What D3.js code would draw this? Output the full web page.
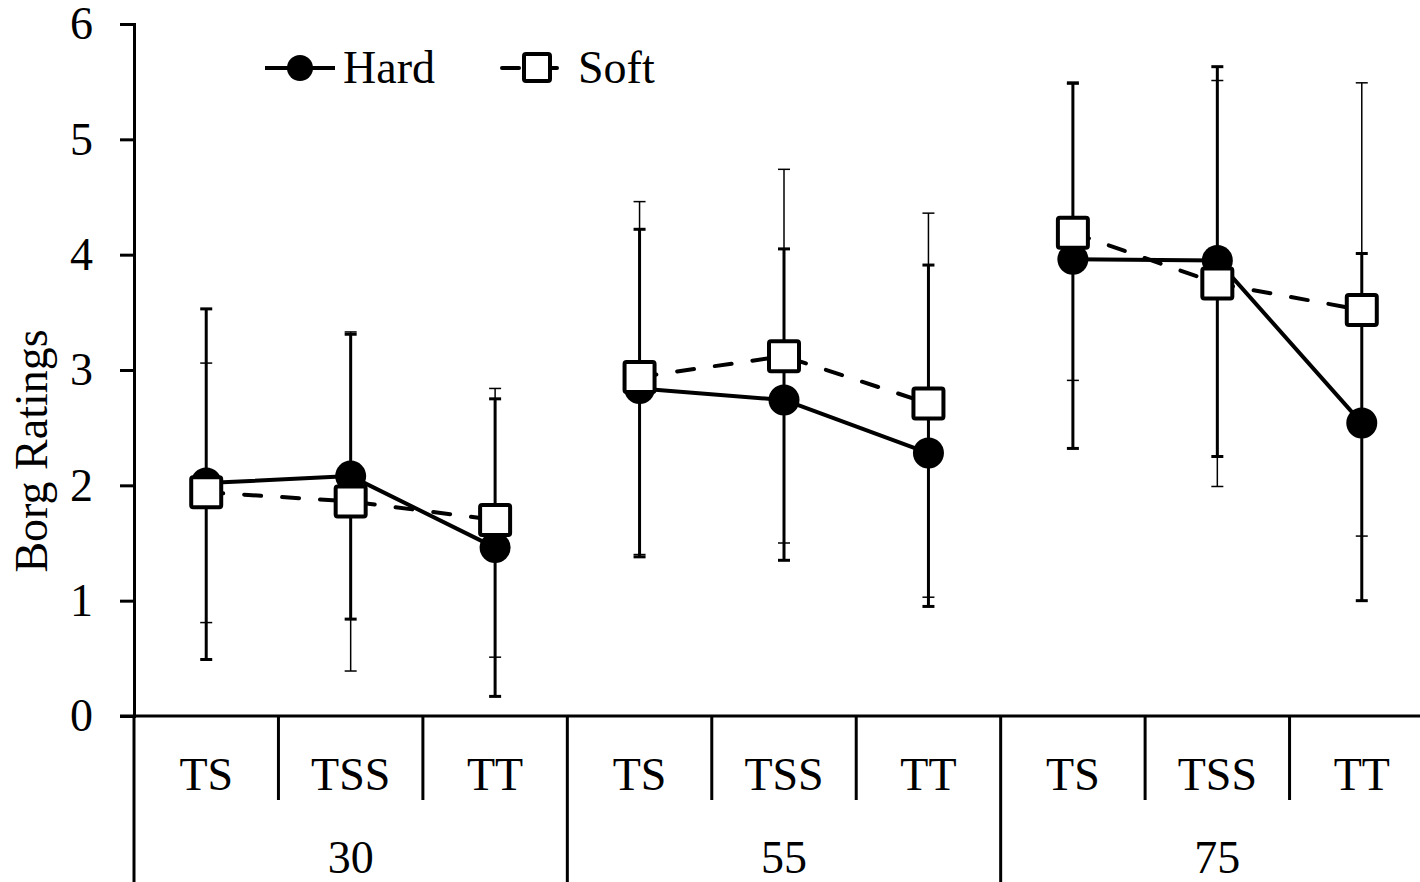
<!DOCTYPE html>
<html>
<head>
<meta charset="utf-8">
<script src="https://cdn.jsdelivr.net/npm/d3@7"></script>
<style>
  html, body { margin: 0; padding: 0; background: #fff; }
  svg { display: block; }
  text { font-family: "Liberation Serif", "Times New Roman", serif; fill: #000; }
</style>
</head>
<body>
<svg id="chart" width="1420" height="882"></svg>
<script>
// ---- data ----
const levels = ["30", "55", "75"];
const tasks = ["TS", "TSS", "TT"];
const yTicks = [0, 1, 2, 3, 4, 5, 6];
const seriesNames = ["Hard", "Soft"];

const hardMean = [2.02, 2.08, 1.46, 2.84, 2.74, 2.28, 3.96, 3.95, 2.54];
const hardLow  = [0.49, 0.84, 0.17, 1.38, 1.35, 0.95, 2.32, 2.25, 1.00];
const hardHigh = [3.53, 3.31, 2.75, 4.22, 4.05, 3.91, 5.49, 5.63, 4.01];

const softMean = [1.94, 1.86, 1.70, 2.94, 3.12, 2.71, 4.19, 3.75, 3.52];
const softLow  = [0.81, 0.39, 0.51, 1.40, 1.50, 1.03, 2.91, 1.99, 1.56];
const softHigh = [3.06, 3.33, 2.84, 4.46, 4.74, 4.36, 5.48, 5.51, 5.49];

// ---- build ----
const cats = [];
levels.forEach(l => tasks.forEach(t => cats.push({ level: l, task: t, key: l + "-" + t })));

const svg = d3.select("#chart");
const FONT = 46;

const x = d3.scaleBand().domain(cats.map(c => c.key)).range([134, 1434]).padding(0);
const y = d3.scaleLinear().domain([0, 6]).range([716, 24]);
const cx = i => x(cats[i].key) + x.bandwidth() / 2;

// y axis
const yAxis = d3.axisLeft(y).tickValues(yTicks).tickSize(14).tickSizeOuter(14).tickPadding(27).tickFormat(d3.format("d"));
const gy = svg.append("g").attr("transform", "translate(134,0)").call(yAxis);
gy.selectAll("path.domain").attr("stroke", "#000").attr("stroke-width", 3);
gy.selectAll(".tick line").attr("stroke", "#000").attr("stroke-width", 3);
gy.selectAll(".tick text").style("font-size", FONT + "px").style("font-family", "Liberation Serif");

// extension of y axis line downwards (category table)
svg.append("line").attr("x1", 134).attr("x2", 134).attr("y1", 716).attr("y2", 882)
  .attr("stroke", "#000").attr("stroke-width", 3);

// x axis line
svg.append("line").attr("x1", 120).attr("x2", 1434).attr("y1", y(0)).attr("y2", y(0))
  .attr("stroke", "#000").attr("stroke-width", 3);

// separators
cats.forEach((c, i) => {
  if (i === 0) return;
  const xs = x(c.key);
  const isGroup = tasks.indexOf(c.task) === 0;
  svg.append("line").attr("x1", xs).attr("x2", xs).attr("y1", y(0)).attr("y2", isGroup ? 882 : 800)
    .attr("stroke", "#000").attr("stroke-width", 3);
});

// task labels
const xAxis = d3.axisBottom(x).tickSize(0).tickPadding(0).tickFormat(k => k.split("-")[1]);
const gx = svg.append("g").attr("transform", "translate(0,716)").call(xAxis);
gx.select("path.domain").remove();
gx.selectAll(".tick text").attr("y", 74).attr("dy", 0)
  .style("font-size", FONT + "px").style("font-family", "Liberation Serif");

// level labels
levels.forEach((l, gi) => {
  const x0 = x(l + "-" + tasks[0]);
  const x1 = x(l + "-" + tasks[tasks.length - 1]) + x.bandwidth();
  svg.append("text").attr("x", (x0 + x1) / 2).attr("y", 873).attr("text-anchor", "middle")
    .style("font-size", FONT + "px").text(l);
});

// y axis title
svg.append("text").attr("transform", "translate(47,451) rotate(-90)").attr("text-anchor", "middle")
  .style("font-size", FONT + "px").text("Borg Ratings");

// error bars
function errBars(low, high, sw) {
  const g = svg.append("g").attr("stroke", "#000").attr("stroke-width", sw).attr("fill", "none");
  low.forEach((lo, i) => {
    const xc = cx(i);
    g.append("line").attr("x1", xc).attr("x2", xc).attr("y1", y(lo)).attr("y2", y(high[i]));
    g.append("line").attr("x1", xc - 6).attr("x2", xc + 6).attr("y1", y(lo)).attr("y2", y(lo));
    g.append("line").attr("x1", xc - 6).attr("x2", xc + 6).attr("y1", y(high[i])).attr("y2", y(high[i]));
  });
}
errBars(softLow, softHigh, 1.5);
errBars(hardLow, hardHigh, 3);

// lines (per level group)
const line = d3.line().x(d => cx(d.i)).y(d => y(d.v));
function drawLines(vals, dashed) {
  levels.forEach((l, gi) => {
    const pts = tasks.map((t, ti) => ({ i: gi * 3 + ti, v: vals[gi * 3 + ti] }));
    const p = svg.append("path").attr("d", line(pts)).attr("fill", "none")
      .attr("stroke", "#000").attr("stroke-width", 4).attr("stroke-linejoin", "round");
    if (dashed) p.attr("stroke-dasharray", "17,21").attr("stroke-linecap", "round");
  });
}
drawLines(softMean, true);
drawLines(hardMean, false);

// markers
svg.append("g").selectAll("circle").data(hardMean).join("circle")
  .attr("cx", (d, i) => cx(i)).attr("cy", d => y(d)).attr("r", 15.5).attr("fill", "#000");
svg.append("g").selectAll("rect").data(softMean).join("rect")
  .attr("x", (d, i) => cx(i) - 15).attr("y", d => y(d) - 15).attr("width", 30).attr("height", 30)
  .attr("rx", 2).attr("fill", "#fff").attr("stroke", "#000").attr("stroke-width", 4);

// legend
const lg = svg.append("g");
lg.append("line").attr("x1", 265).attr("x2", 335).attr("y1", 68).attr("y2", 68)
  .attr("stroke", "#000").attr("stroke-width", 4);
lg.append("circle").attr("cx", 300).attr("cy", 68).attr("r", 13).attr("fill", "#000");
lg.append("text").attr("x", 343).attr("y", 83).style("font-size", FONT + "px").text(seriesNames[0]);
lg.append("line").attr("x1", 502).attr("x2", 562).attr("y1", 68).attr("y2", 68)
  .attr("stroke", "#000").attr("stroke-width", 4).attr("stroke-dasharray", "17,21").attr("stroke-linecap", "round");
lg.append("rect").attr("x", 524).attr("y", 54).attr("width", 26).attr("height", 27).attr("rx", 2)
  .attr("fill", "#fff").attr("stroke", "#000").attr("stroke-width", 4);
lg.append("text").attr("x", 578).attr("y", 83).style("font-size", FONT + "px").text(seriesNames[1]);
</script>
</body>
</html>
